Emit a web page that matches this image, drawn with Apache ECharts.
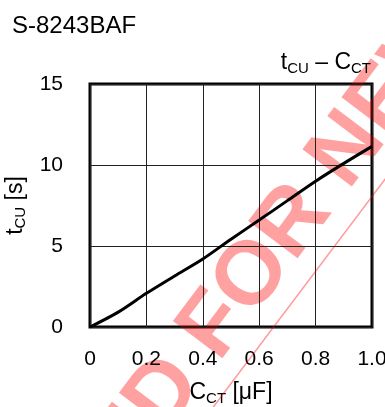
<!DOCTYPE html>
<html>
<head>
<meta charset="utf-8">
<script src="https://cdn.jsdelivr.net/npm/echarts@6/dist/echarts.min.js"></script>
<style>
html,body{margin:0;padding:0;background:#fff;}
#chart{width:385px;height:407px;}
</style>
</head>
<body>
<div id="chart"></div>
<script>
// Data
var cctValues = [0, 0.1, 0.2, 0.3, 0.4, 0.5, 0.6, 0.7, 0.8, 0.9, 1.0];   // C_CT [uF]
var tcuValues = [0, 0.92, 2.08, 3.15, 4.2, 5.42, 6.6, 7.8, 9.0, 10.1, 11.15]; // t_CU [s]
var xTickLabels = ['0', '0.2', '0.4', '0.6', '0.8', '1.0'];
var yTickLabels = ['0', '5', '10', '15'];
var chartTitle = 'S-8243BAF';
var watermarkLeft = 'NOT RECOMMENDED';
var watermarkRight = 'FOR NEW DESIGN';

var FONT = '"Liberation Sans", Arial, sans-serif';
var seriesData = cctValues.map(function (x, i) { return [x, tcuValues[i]]; });

var chart = echarts.init(document.getElementById('chart'), null, {renderer: 'canvas'});
var richSub = {
  n: {fontSize: 23, fontFamily: FONT, fontWeight: 'normal', color: '#000', lineHeight: 26, verticalAlign: 'middle'},
  s: {fontSize: 15, fontFamily: FONT, fontWeight: 'normal', color: '#000', lineHeight: 15, verticalAlign: 'bottom'}
};
var ang = 53 * Math.PI / 180;
var wmStyle = {fontSize: 90, fontWeight: 'bold', fontFamily: FONT, fill: 'rgba(255,0,0,0.37)', verticalAlign: 'middle'};
var option = {
  animation: false,
  backgroundColor: '#fff',
  title: [
    {text: chartTitle, left: 12, top: 14, padding: 0, textStyle: {fontSize: 24, fontWeight: 'normal', fontFamily: FONT, color: '#000'}},
    {text: '{n|t}{s|CU}{n| \u2013 C}{s|CT}', right: 14, top: 50, padding: 0, textStyle: {fontWeight: 'normal', rich: richSub}}
  ],
  grid: {left: 90, right: 13, top: 84, bottom: 80, show: true, borderColor: '#000', borderWidth: 3,
    backgroundColor: 'transparent', containLabel: false, outerBoundsMode: 'none'},
  xAxis: {
    type: 'value', min: 0, max: 1, interval: 0.2,
    name: '{n|C}{s|CT}{n| [\u03bcF]}', nameLocation: 'middle', nameGap: 53,
    nameTextStyle: {rich: richSub},
    axisLine: {show: false}, axisTick: {show: false},
    splitLine: {show: true, lineStyle: {color: '#222', width: 1}},
    axisLabel: {margin: 22, fontSize: 21, fontFamily: FONT, color: '#000',
      formatter: function (v) { return xTickLabels[Math.round(v / 0.2)]; }}
  },
  yAxis: {
    type: 'value', min: 0, max: 15, interval: 5,
    name: '{n|t}{s|CU}{n| [s]}', nameLocation: 'middle', nameGap: 53,
    nameTextStyle: {rich: richSub},
    axisLine: {show: false}, axisTick: {show: false},
    splitLine: {show: true, lineStyle: {color: '#222', width: 1}},
    axisLabel: {margin: 27, fontSize: 21, fontFamily: FONT, color: '#000',
      formatter: function (v) { return yTickLabels[Math.round(v / 5)]; }}
  },
  series: [{
    type: 'line', data: seriesData, smooth: 0.3, showSymbol: false,
    lineStyle: {color: '#000', width: 3}, z: 3
  }],
  graphic: [
    {
      type: 'group', x: 199, y: 348, rotation: ang, z: 100,
      children: [
        {type: 'text', x: 0, y: 0, style: Object.assign({text: watermarkRight, align: 'left'}, wmStyle)},
        {type: 'text', x: -25, y: 0, style: Object.assign({text: watermarkLeft, align: 'right'}, wmStyle)}
      ]
    },
    {
      type: 'line', z: 100,
      shape: {x1: 205, y1: 418, x2: 395, y2: 166},
      style: {stroke: 'rgba(255,0,0,0.4)', lineWidth: 1.5}
    }
  ]
};
chart.setOption(option);
</script>
</body>
</html>
